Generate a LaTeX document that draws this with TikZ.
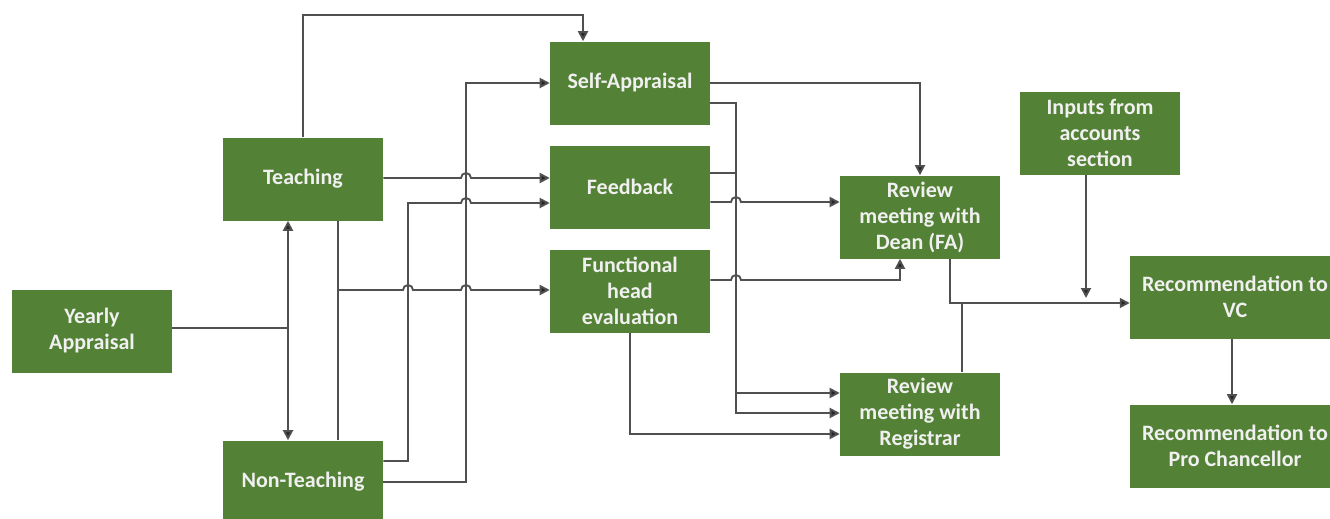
\documentclass[tikz,border=0pt]{standalone}
\usepackage{fontspec}
\setmainfont{Carlito}
\usetikzlibrary{arrows.meta}
\definecolor{boxgreen}{HTML}{538135}
\definecolor{linegray}{HTML}{505050}
\tikzset{
  box/.style={fill=boxgreen, text=white!94!black, font=\bfseries\fontsize{16.5}{19.5}\selectfont,
    align=center, minimum width=120pt, minimum height=62.25pt, inner sep=0pt},
  widebox/.style={box, minimum width=157.5pt},
  link/.style={draw=linegray, line width=1.4pt},
  conn/.style={link, -{Triangle[length=7.5pt,width=7.5pt,fill=black!85]}},
  twoway/.style={link, {Triangle[length=7.5pt,width=7.5pt,fill=black!85]}-{Triangle[length=7.5pt,width=7.5pt,fill=black!85]}},
}
\begin{document}
\begin{tikzpicture}[x=0.75pt,y=-0.75pt]
\useasboundingbox (0,0) rectangle (1330,518);

\node[box] (yearly) at (92,331) {Yearly\\Appraisal};
\node[box] (teach) at (303,179) {Teaching};
\node[box] (nonteach) at (303,482) {Non-Teaching};
\node[box] (self) at (630,83) {Self-Appraisal};
\node[box] (feed) at (630,187) {Feedback};
\node[box] (func) at (630,291) {Functional\\head\\evaluation};
\node[box] (dean) at (920,217) {Review\\meeting with\\Dean (FA)};
\node[box] (reg) at (920,414) {Review\\meeting with\\Registrar};
\node[box] (inputs) at (1100,133) {Inputs from\\accounts\\section};
\node[widebox] (vc) at (1235,297) {Recommendation to\\VC};
\node[widebox] (pro) at (1235,446) {Recommendation to\\Pro Chancellor};

\draw[link] (yearly.east |- 0,328) -- (288,328);
\draw[twoway] (teach.south -| 288,0) -- (nonteach.north -| 288,0);
\draw[conn] (teach.north) -- (303,15) -| (self.north -| 583,0);

\draw[conn] (teach.south -| 338,0) -- (338,290) -- (403,290) arc(180:0:3.75pt)
  -- (461,290) arc(180:0:3.75pt) -- (func.west |- 0,290);
\draw[link] (nonteach.north -| 338,0) -- (338,290);
\draw[conn] (teach.east |- 0,178) -- (461,178) arc(180:0:3.75pt) -- (feed.west |- 0,178);
\draw[conn] (nonteach.east |- 0,461) -- (408,461) -- (408,203) -- (461,203)
  arc(180:0:3.75pt) -- (feed.west |- 0,203);
\draw[conn] (nonteach.east |- 0,482) -- (466,482) -- (466,83) -- (self.west);

\draw[conn] (self.east) -| (dean.north);
\draw[conn] (self.east |- 0,103) -- (736,103) -- (736,393) -- (reg.west |- 0,393);
\draw[conn] (feed.east |- 0,173) -- (736,173) -- (736,413) -- (reg.west |- 0,413);
\draw[conn] (feed.east |- 0,202) -- (731,202) arc(180:0:3.75pt) -- (dean.west |- 0,202);
\draw[conn] (func.east |- 0,280) -- (731,280) arc(180:0:3.75pt) -- (900,280)
  -- (dean.south -| 900,0);
\draw[conn] (func.south) |- (reg.west |- 0,434);

\draw[conn] (dean.south -| 950,0) |- (vc.west |- 0,303);
\draw[link] (reg.north -| 962,0) -- (962,303);
\draw[conn] (inputs.south -| 1086,0) -- (1086,298);
\draw[conn] (vc.south -| 1232,0) -- (pro.north -| 1232,0);
\end{tikzpicture}
\end{document}
